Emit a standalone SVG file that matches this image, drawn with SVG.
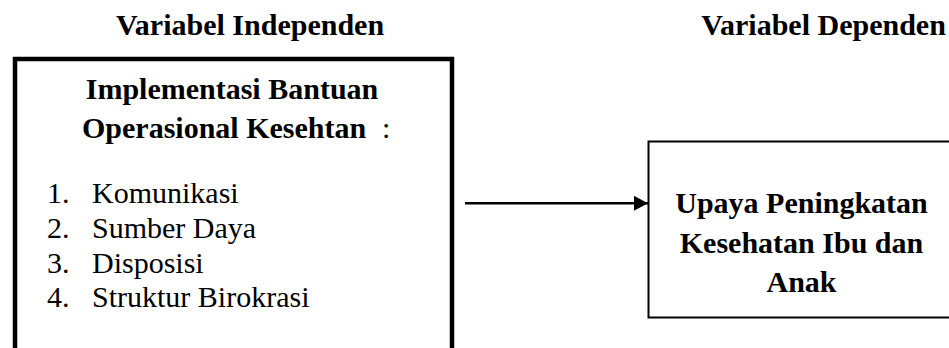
<svg xmlns="http://www.w3.org/2000/svg" width="949" height="348" viewBox="0 0 949 348">
  <defs>
    <style>
      .t { font-family: "Liberation Serif", "Times New Roman", serif; font-size: 30px; fill: #000; }
      .b { font-weight: bold; }
      .box { fill: #fff; stroke: #000; }
      .conn { stroke: #000; stroke-width: 2.5; fill: none; }
    </style>
    <marker id="arrow" markerUnits="userSpaceOnUse" markerWidth="15" markerHeight="16" refX="14" refY="7.5" orient="auto">
      <polygon points="0,0 14,7.5 0,15" fill="#000"/>
    </marker>
  </defs>
  <rect width="949" height="348" fill="#fff"/>

  <g id="title-independen">
    <text class="t b" x="250" y="35" text-anchor="middle">Variabel Independen</text>
  </g>
  <g id="title-dependen">
    <text class="t b" x="823.5" y="35" text-anchor="middle">Variabel Dependen</text>
  </g>

  <g id="node-independen">
    <rect class="box" x="15" y="59" width="437" height="320" stroke-width="4.5"/>
    <text class="t b" x="232" y="99" text-anchor="middle">Implementasi Bantuan</text>
    <text class="t" x="82" y="138"><tspan class="b">Operasional Kesehtan</tspan><tspan x="382">:</tspan></text>
    <text class="t" x="47" y="203">1.</text>
    <text class="t" x="92" y="203">Komunikasi</text>
    <text class="t" x="47" y="238">2.</text>
    <text class="t" x="92" y="238">Sumber Daya</text>
    <text class="t" x="47" y="273">3.</text>
    <text class="t" x="92" y="273">Disposisi</text>
    <text class="t" x="47" y="307">4.</text>
    <text class="t" x="92" y="307">Struktur Birokrasi</text>
  </g>

  <g id="node-dependen">
    <rect class="box" x="648.5" y="141.5" width="320" height="176" stroke-width="2"/>
    <text class="t b" x="801.5" y="213" text-anchor="middle">Upaya Peningkatan</text>
    <text class="t b" x="801.5" y="252.5" text-anchor="middle">Kesehatan Ibu dan</text>
    <text class="t b" x="801.5" y="292" text-anchor="middle">Anak</text>
  </g>

  <g id="connectors">
    <line class="conn" x1="465" y1="203.3" x2="648" y2="203.3" marker-end="url(#arrow)"/>
  </g>
</svg>
